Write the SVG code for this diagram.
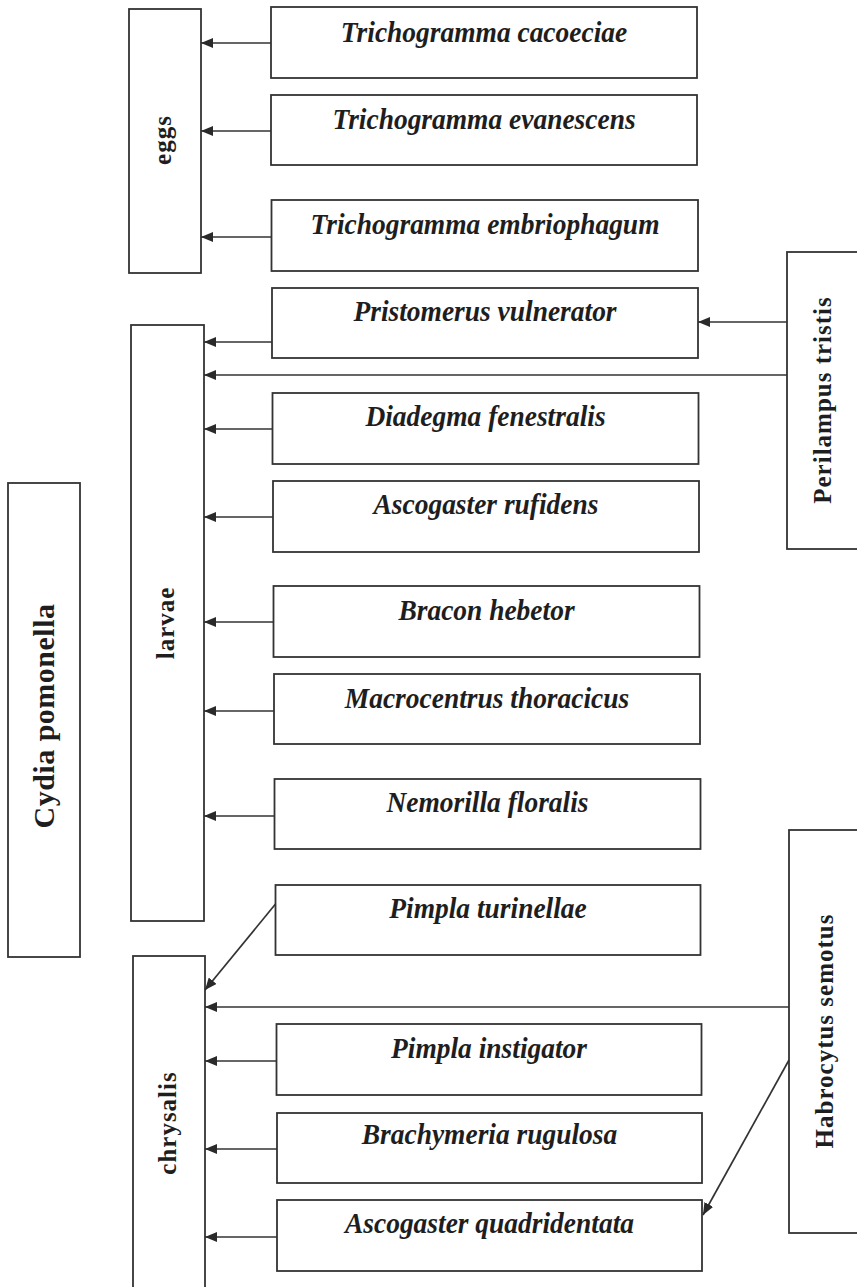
<svg xmlns="http://www.w3.org/2000/svg" width="857" height="1287" viewBox="0 0 857 1287">
  <style>
    .box { fill: #ffffff; stroke: #333333; stroke-width: 1.8; }
    .sp { font-family: "Liberation Serif", "Times New Roman", serif; font-weight: bold; font-style: italic; font-size: 30px; fill: #1e1e1e; text-anchor: middle; }
    .stage { font-family: "Liberation Serif", "Times New Roman", serif; font-weight: bold; font-size: 25px; letter-spacing: 1px; fill: #1e1e1e; text-anchor: middle; }
    .host { font-family: "Liberation Serif", "Times New Roman", serif; font-weight: bold; font-size: 30px; letter-spacing: 0.5px; fill: #1e1e1e; text-anchor: middle; }
    .link { stroke: #333333; stroke-width: 1.7; fill: none; marker-end: url(#ah); }
  </style>
  <defs>
    <marker id="ah" viewBox="0 0 12 10" refX="12" refY="5" markerWidth="12" markerHeight="10" orient="auto" markerUnits="userSpaceOnUse">
      <path d="M0,0 L12,5 L0,10 z" fill="#2a2a2a"/>
    </marker>
  </defs>

  <rect width="857" height="1287" fill="#ffffff"/>

  <!-- host -->
  <g id="cydia-pomonella">
    <rect class="box" x="8" y="483" width="72" height="474"/>
    <text class="host" transform="translate(54,716) rotate(-90)">Cydia pomonella</text>
  </g>

  <!-- developmental stages -->
  <g id="eggs">
    <rect class="box" x="129" y="9" width="72" height="264"/>
    <text class="stage" transform="translate(171,140) rotate(-90)">eggs</text>
  </g>
  <g id="larvae">
    <rect class="box" x="131" y="325" width="73" height="596"/>
    <text class="stage" transform="translate(174,623) rotate(-90)">larvae</text>
  </g>
  <g id="chrysalis">
    <rect class="box" x="133" y="956" width="72" height="340"/>
    <text class="stage" transform="translate(176,1123) rotate(-90)">chrysalis</text>
  </g>

  <!-- hyperparasitoids -->
  <g id="perilampus-tristis">
    <rect class="box" x="787" y="252" width="80" height="297"/>
    <text class="stage" transform="translate(831,400) rotate(-90)">Perilampus tristis</text>
  </g>
  <g id="habrocytus-semotus">
    <rect class="box" x="789" y="830" width="80" height="403"/>
    <text class="stage" transform="translate(833,1031) rotate(-90)">Habrocytus semotus</text>
  </g>

  <!-- parasitoids (narrowed bold italic labels) -->
  <g id="trichogramma-cacoeciae">
    <rect class="box" x="271" y="7" width="426" height="71"/>
    <text class="sp" transform="translate(484,42) scale(0.915,1)">Trichogramma cacoeciae</text>
  </g>
  <g id="trichogramma-evanescens">
    <rect class="box" x="271" y="95" width="426" height="70"/>
    <text class="sp" transform="translate(484,129) scale(0.915,1)">Trichogramma evanescens</text>
  </g>
  <g id="trichogramma-embriophagum">
    <rect class="box" x="271.5" y="200" width="426.5" height="71"/>
    <text class="sp" transform="translate(485,234) scale(0.915,1)">Trichogramma embriophagum</text>
  </g>
  <g id="pristomerus-vulnerator">
    <rect class="box" x="272" y="288" width="426" height="70"/>
    <text class="sp" transform="translate(485,321) scale(0.915,1)">Pristomerus vulnerator</text>
  </g>
  <g id="diadegma-fenestralis">
    <rect class="box" x="272.5" y="393" width="426" height="71"/>
    <text class="sp" transform="translate(485.5,426) scale(0.915,1)">Diadegma fenestralis</text>
  </g>
  <g id="ascogaster-rufidens">
    <rect class="box" x="273" y="481" width="426" height="71"/>
    <text class="sp" transform="translate(486,514) scale(0.915,1)">Ascogaster rufidens</text>
  </g>
  <g id="bracon-hebetor">
    <rect class="box" x="273.5" y="586" width="426" height="71"/>
    <text class="sp" transform="translate(486.5,620) scale(0.915,1)">Bracon hebetor</text>
  </g>
  <g id="macrocentrus-thoracicus">
    <rect class="box" x="274" y="674" width="426" height="70"/>
    <text class="sp" transform="translate(487,708) scale(0.915,1)">Macrocentrus thoracicus</text>
  </g>
  <g id="nemorilla-floralis">
    <rect class="box" x="274.5" y="779" width="426" height="70"/>
    <text class="sp" transform="translate(487.5,812) scale(0.915,1)">Nemorilla floralis</text>
  </g>
  <g id="pimpla-turinellae">
    <rect class="box" x="275.5" y="885" width="425" height="70"/>
    <text class="sp" transform="translate(488,918) scale(0.915,1)">Pimpla turinellae</text>
  </g>
  <g id="pimpla-instigator">
    <rect class="box" x="276.5" y="1024" width="425" height="71"/>
    <text class="sp" transform="translate(489,1058) scale(0.915,1)">Pimpla instigator</text>
  </g>
  <g id="brachymeria-rugulosa">
    <rect class="box" x="277" y="1113" width="425" height="70"/>
    <text class="sp" transform="translate(489.5,1144) scale(0.915,1)">Brachymeria rugulosa</text>
  </g>
  <g id="ascogaster-quadridentata">
    <rect class="box" x="277" y="1200" width="425" height="71"/>
    <text class="sp" transform="translate(489.5,1233) scale(0.915,1)">Ascogaster quadridentata</text>
  </g>

  <!-- connectors -->
  <g id="connectors">
    <line class="link" x1="271" y1="43" x2="201" y2="43"/>
    <line class="link" x1="271" y1="131" x2="201" y2="131"/>
    <line class="link" x1="271.5" y1="237" x2="201" y2="237"/>

    <line class="link" x1="272" y1="342" x2="204" y2="342"/>
    <line class="link" x1="787" y1="322" x2="698" y2="322"/>
    <line class="link" x1="787" y1="375" x2="204" y2="375"/>
    <line class="link" x1="272.5" y1="429" x2="204" y2="429"/>
    <line class="link" x1="273" y1="517" x2="204" y2="517"/>
    <line class="link" x1="273.5" y1="622" x2="204" y2="622"/>
    <line class="link" x1="274" y1="711" x2="204" y2="711"/>
    <line class="link" x1="274.5" y1="816" x2="204" y2="816"/>

    <line class="link" x1="275.5" y1="904" x2="205" y2="990"/>
    <line class="link" x1="789" y1="1007" x2="205" y2="1007"/>
    <line class="link" x1="276.5" y1="1061" x2="205" y2="1061"/>
    <line class="link" x1="277" y1="1149" x2="205" y2="1149"/>
    <line class="link" x1="277" y1="1237" x2="205" y2="1237"/>
    <line class="link" x1="789" y1="1060" x2="703" y2="1215"/>
  </g>
</svg>
